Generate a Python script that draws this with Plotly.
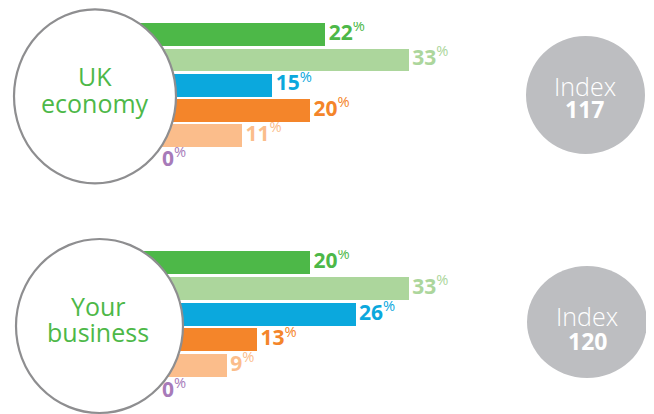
import plotly.graph_objects as go

# ---------------- data ----------------
categories = ["Improve significantly", "Improve slightly", "Stay the same",
              "Decline slightly", "Decline significantly", "Don't know"]
uk_economy = [22, 33, 15, 20, 11, 0]
your_business = [20, 33, 26, 13, 9, 0]
group_titles = [["UK", "economy"], ["Your", "business"]]
index_values = [117, 120]

# ---------------- style ----------------
bar_colors = ["#4db848", "#acd69c", "#0ba8dd", "#f4852a", "#fbbd8b", "#a77bb9"]
title_green = "#4db848"
ring_color = "#8e8e90"
index_gray = "#bdbec1"
FONT = "Open Sans"
W, H = 654, 414
OFF = 8    # page body margin compensation
LEAD = 5   # bars begin a little behind the ring


def px(x):
    return (x - OFF) / W


def py(y):
    return 1 - (y - OFF) / H


fig = go.Figure()

for series, yax in [(uk_economy, "y"), (your_business, "y2")]:
    bases = [-LEAD if v > 0 else 0 for v in series]
    lengths = [v + LEAD if v > 0 else 0 for v in series]
    fig.add_trace(go.Bar(
        orientation="h", y=categories, x=lengths, base=bases,
        marker=dict(color=bar_colors, line=dict(width=0)),
        width=0.9, xaxis="x", yaxis=yax, hoverinfo="skip",
    ))
    fig.add_trace(go.Scatter(
        mode="text", x=series, y=categories,
        text=[f"\u2009<b>{v}</b><sup>%</sup>" for v in series],
        textposition="middle right",
        textfont=dict(color=bar_colors, size=21, family=FONT),
        xaxis="x", yaxis=yax, hoverinfo="skip",
    ))

# rings (white fill covers the bar starts)
rings = [(14, 9.3, 176, 183.3), (16, 239, 183, 413)]
for (x0, y0, x1, y1) in rings:
    fig.add_shape(type="circle", xref="paper", yref="paper",
                  x0=px(x0), x1=px(x1), y0=py(y1), y1=py(y0),
                  fillcolor="white", line=dict(color=ring_color, width=2.2),
                  layer="above")

# index discs
discs = [(526, 36, 645, 154), (527, 266, 647, 378)]
for (x0, y0, x1, y1) in discs:
    fig.add_shape(type="circle", xref="paper", yref="paper",
                  x0=px(x0), x1=px(x1), y0=py(y1), y1=py(y0),
                  fillcolor=index_gray, line=dict(width=0), layer="above")

# ring titles
title_pos = [[(95, 76), (95, 103)], [(98, 306), (98, 332)]]
for lines, poss in zip(group_titles, title_pos):
    for txt, (x, y) in zip(lines, poss):
        fig.add_annotation(text=txt, xref="paper", yref="paper",
                           x=px(x), y=py(y), xanchor="center", yanchor="middle",
                           showarrow=False,
                           font=dict(family=FONT, size=25, color=title_green))

# index labels
index_pos = [((584.5, 86), (584.5, 109)), ((587, 316), (587, 341))]
for val, ((xa, ya), (xb, yb)) in zip(index_values, index_pos):
    fig.add_annotation(text="Index", xref="paper", yref="paper",
                       x=px(xa), y=py(ya), xanchor="center", yanchor="middle",
                       showarrow=False,
                       font=dict(family=FONT, size=25, color="white", weight=300))
    fig.add_annotation(text=f"<b>{val}</b>", xref="paper", yref="paper",
                       x=px(xb), y=py(yb), xanchor="center", yanchor="middle",
                       showarrow=False,
                       font=dict(family=FONT, size=23, color="white"))

x0_px, slope = 158.5 - OFF, 7.58
fig.update_layout(
    width=W, height=H,
    margin=dict(l=0, r=0, t=0, b=0),
    paper_bgcolor="white", plot_bgcolor="white",
    showlegend=False, bargap=0,
    xaxis=dict(range=[-x0_px / slope, (W - x0_px) / slope], domain=[0, 1],
               visible=False, fixedrange=True),
    yaxis=dict(type="category", categoryorder="array", categoryarray=categories,
               range=[5.5, -0.5], domain=[py(173.6), py(21.9)], visible=False),
    yaxis2=dict(type="category", categoryorder="array", categoryarray=categories,
                range=[5.5, -0.5], domain=[py(404.3), py(250.2)], visible=False,
                anchor="x"),
)

fig.write_html("out.html")
